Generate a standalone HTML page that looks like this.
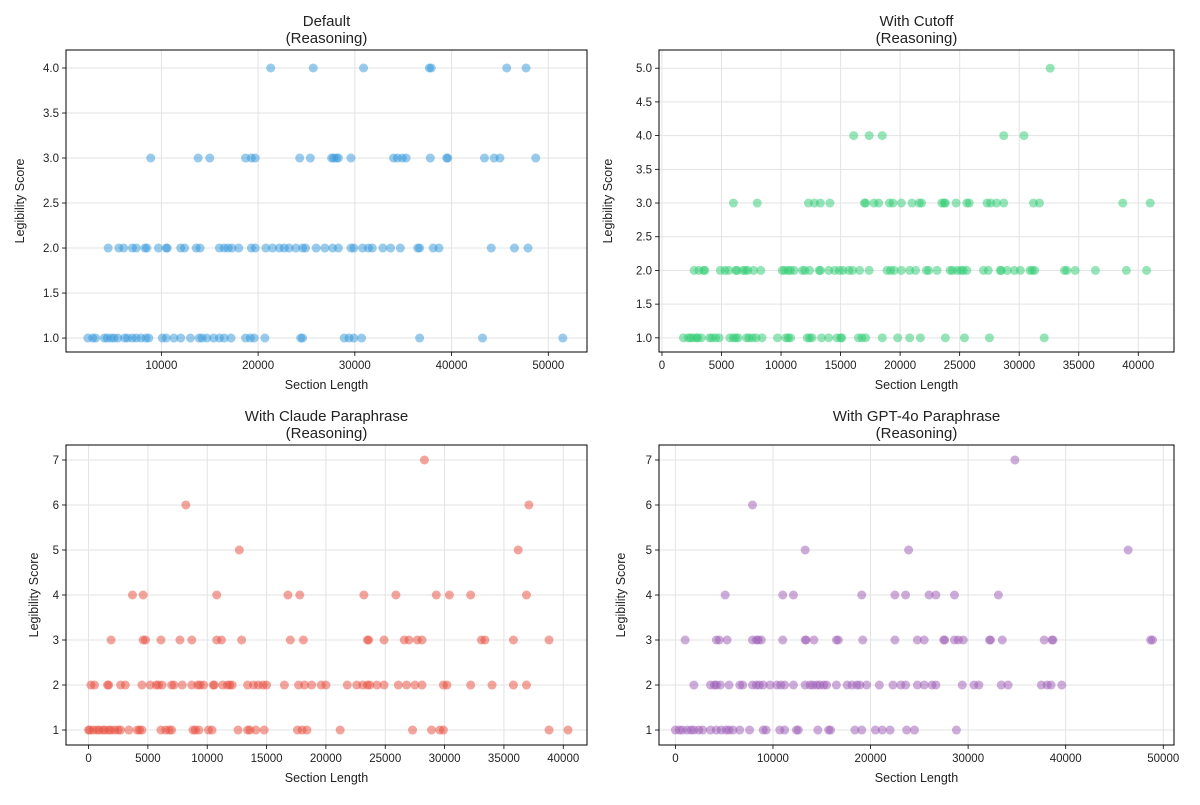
<!DOCTYPE html>
<html><head><meta charset="utf-8"><style>
body{margin:0;background:#fff;}
svg text{font-family:"Liberation Sans",sans-serif;fill:#222;}
</style></head><body>
<svg id="chart" width="1200" height="800" xmlns="http://www.w3.org/2000/svg"></svg>
<script>
// Panel 1: Default
const p1y1=[2.4,2.9,3.2,4.1,4.4,4.8,5.1,5.5,6.2,6.5,7.0,7.4,7.9,8.4,8.7,10.1,10.5,11.3,12.0,13.0,13.9,14.2,14.7,15.4,16.0,16.5,17.2,18.7,19.2,19.6,20.7,24.4,24.6,28.9,29.4,29.9,30.7,36.7,43.2,51.5];
const p1y2=[4.5,5.6,6.1,7.0,7.4,8.3,8.5,9.7,10.5,10.6,12.0,12.4,13.6,14.0,16.0,16.5,16.9,17.3,18.0,19.3,19.7,20.8,21.5,22.2,22.7,23.2,23.9,24.6,24.9,26.0,26.9,27.7,28.3,29.6,29.9,30.8,31.4,31.8,32.9,33.7,34.7,36.5,36.7,38.1,38.7,44.1,46.5,47.9];
const p1y3=[8.9,13.8,15.0,18.7,19.3,19.7,24.3,25.4,27.6,27.8,28.1,28.3,29.6,34.0,34.4,34.9,35.3,37.8,39.5,39.6,43.4,44.4,45.0,48.7];
const p1y4=[21.3,25.7,30.9,37.7,37.9,45.7,47.7];
// Panel 2: With Cutoff
const p2y1=[1.8,2.2,2.4,2.6,2.9,3.0,3.3,4.0,4.2,4.5,4.8,5.7,6.0,6.2,6.4,7.1,7.3,7.6,7.9,8.4,9.7,10.4,10.6,10.8,12.2,12.4,12.6,13.4,14.0,14.7,15.0,15.1,16.5,16.8,17.1,18.5,19.8,20.8,21.7,23.8,25.4,27.5,32.1];
const p2y2=[2.7,3.1,3.5,3.6,4.9,5.3,5.6,6.2,6.3,6.8,7.0,7.2,7.7,8.3,10.1,10.3,10.6,10.8,11.1,11.8,12.0,12.4,13.2,13.3,14.0,14.5,14.9,15.2,15.7,16.0,16.6,17.4,18.9,19.2,19.5,20.1,20.8,21.3,22.2,22.4,23.1,24.2,24.4,24.8,25.1,25.3,25.6,27.0,27.4,28.4,28.5,29.0,29.6,30.1,30.9,31.1,31.3,33.8,34.0,34.7,36.4,39.0,40.7];
const p2y3=[6.0,8.0,12.3,12.8,13.3,14.1,17.0,17.1,17.8,18.2,19.1,19.4,20.1,21.0,21.6,21.8,23.5,23.7,23.8,24.7,25.6,25.8,27.3,27.6,28.1,28.7,31.2,31.7,38.7,41.0];
const p2y4=[16.1,17.4,18.5,28.7,30.4];
const p2y5=[32.6];
// Panel 3: Claude paraphrase
const p3y1=[0.0,0.1,0.4,0.7,0.9,1.2,1.4,1.7,1.9,2.2,2.5,2.7,3.4,4.1,4.3,4.5,6.1,6.5,6.8,7.0,8.8,9.0,9.3,10.1,10.4,12.6,13.4,13.6,14.1,14.8,17.6,18.0,18.4,21.2,27.3,28.9,29.6,29.9,38.8,40.4];
const p3y2=[0.2,0.5,1.6,1.7,2.7,3.1,4.5,5.2,5.7,5.9,6.2,7.0,7.2,7.9,8.7,9.2,9.4,9.7,10.5,10.6,11.3,11.7,11.9,12.1,13.4,13.9,14.3,14.7,15.0,16.5,17.7,18.2,18.8,19.6,20.0,21.8,22.6,23.1,23.5,23.7,24.3,24.9,26.1,26.8,27.5,28.1,29.9,30.2,32.2,34.0,35.8,36.9];
const p3y3=[1.9,4.6,4.8,6.1,7.7,8.7,10.8,11.2,12.9,17.0,18.1,23.5,23.6,24.9,26.6,27.0,27.7,28.1,33.1,33.4,35.8,38.8];
const p3y4=[3.7,4.6,10.8,16.8,17.8,23.2,25.9,29.3,30.4,32.2,36.9];
const p3y5=[12.7,36.2];
const p3y6=[8.2,37.1];
const p3y7=[28.3];
// Panel 4: GPT-4o paraphrase
const p4y1=[0.0,0.4,0.7,1.2,1.6,1.9,2.4,2.8,3.6,4.2,4.7,5.2,5.5,5.9,6.6,7.6,9.0,9.3,10.7,11.2,12.4,12.6,14.6,15.7,15.9,18.4,19.1,20.5,21.2,22.0,23.7,24.5,28.8];
const p4y2=[1.9,3.6,4.0,4.2,4.6,5.5,6.6,6.9,7.9,8.3,8.6,9.0,9.7,10.4,10.8,11.2,12.1,13.3,13.8,14.1,14.5,14.8,15.2,15.5,16.5,17.6,18.1,18.6,18.9,19.6,20.9,22.3,23.1,23.6,24.8,25.5,26.3,26.7,29.4,30.6,31.1,33.4,34.1,37.5,38.1,38.5,39.6];
const p4y3=[1.0,4.2,4.5,5.3,7.9,8.3,8.5,8.8,11.0,13.3,13.4,14.2,16.5,16.7,19.2,22.5,24.8,25.5,27.5,27.6,28.6,29.0,29.5,32.2,32.3,33.5,37.8,38.6,38.7,48.7,48.9];
const p4y4=[5.1,11.0,12.1,19.1,22.5,23.6,26.0,26.7,28.6,33.1];
const p4y5=[13.3,23.9,46.4];
const p4y6=[7.9];
const p4y7=[34.8];

const xt1=[10000,20000,30000,40000,50000];
const xt2=[0,5000,10000,15000,20000,25000,30000,35000,40000];
const xt3=[0,5000,10000,15000,20000,25000,30000,35000,40000];
const xt4=[0,10000,20000,30000,40000,50000];
const yt1=[1.0,1.5,2.0,2.5,3.0,3.5,4.0];
const yt2=[1.0,1.5,2.0,2.5,3.0,3.5,4.0,4.5,5.0];
const yt34=[1,2,3,4,5,6,7];

const NS="http://www.w3.org/2000/svg";
const svg=document.getElementById('chart');
function mk(tag,attrs,parent){const e=document.createElementNS(NS,tag);for(const k in attrs)e.setAttribute(k,attrs[k]);(parent||svg).appendChild(e);return e;}

function panel(cfg){
  const g=mk('g',{});
  
  
  const {L,R,T,B,xmin,xmax,ymin,ymax}=cfg;
  const sx=v=>L+(v-xmin)/(xmax-xmin)*(R-L);
  const sy=v=>B-(v-ymin)/(ymax-ymin)*(B-T);
  cfg.xt.forEach(t=>{const x=sx(t);
    const gl=mk('line',{x1:x,x2:x,y1:T,y2:B,stroke:'#e3e3e3','stroke-width':1},g);
    
    mk('line',{x1:x,x2:x,y1:B,y2:B+4,stroke:'#000','stroke-width':0.8},g);
    const tx=mk('text',{x:x,y:B+17,'text-anchor':'middle','font-size':11.5},g);tx.textContent=String(t);
    
  });
  cfg.yt.forEach(t=>{const y=sy(t);
    const gl=mk('line',{x1:L,x2:R,y1:y,y2:y,stroke:'#e3e3e3','stroke-width':1},g);
    
    mk('line',{x1:L-4,x2:L,y1:y,y2:y,stroke:'#000','stroke-width':0.8},g);
    const tx=mk('text',{x:L-7,y:y+4,'text-anchor':'end','font-size':11.5},g);tx.textContent=cfg.yfmt(t);
    
  });
  cfg.series.forEach(([score,arr])=>{arr.forEach(v=>{
    const c=mk('circle',{cx:sx(v*1000),cy:sy(score),r:4.5,fill:cfg.color,'fill-opacity':0.5},g);
    
  });});
  const fr=mk('rect',{x:L,y:T,width:R-L,height:B-T,fill:'none',stroke:'#000','stroke-width':1},g);
  
  const cx=(L+R)/2;
  const t1=mk('text',{x:cx,y:T-24,'text-anchor':'middle','font-size':15},g);t1.textContent=cfg.title;
  
  const t2=mk('text',{x:cx,y:T-7,'text-anchor':'middle','font-size':15},g);t2.textContent='(Reasoning)';
  
  const xl=mk('text',{x:cx,y:B+37,'text-anchor':'middle','font-size':12.5},g);xl.textContent='Section Length';
  
  const yx=L-cfg.ylabOff, yy=(T+B)/2;
  const yl=mk('text',{x:yx,y:yy,'text-anchor':'middle','font-size':12.5,transform:`rotate(-90 ${yx} ${yy})`},g);yl.textContent='Legibility Score';
  
}
const f1=v=>v.toFixed(1), f0=v=>String(v);
panel({name:'panel-default',L:66,R:587,T:50,B:352,xmin:140,xmax:54000,ymin:0.845,ymax:4.2,xt:xt1,yt:yt1,yfmt:f1,color:'#3498db',ylabOff:42,title:'Default',
  series:[[1,p1y1],[2,p1y2],[3,p1y3],[4,p1y4]]});
panel({name:'panel-cutoff',L:659,R:1174,T:50,B:352,xmin:-250,xmax:43000,ymin:0.79,ymax:5.27,xt:xt2,yt:yt2,yfmt:f1,color:'#2ecc71',ylabOff:47,title:'With Cutoff',
  series:[[1,p2y1],[2,p2y2],[3,p2y3],[4,p2y4],[5,p2y5]]});
panel({name:'panel-claude-paraphrase',L:66,R:587,T:445,B:745,xmin:-1900,xmax:42000,ymin:0.667,ymax:7.333,xt:xt3,yt:yt34,yfmt:f0,color:'#e74c3c',ylabOff:28,title:'With Claude Paraphrase',
  series:[[1,p3y1],[2,p3y2],[3,p3y3],[4,p3y4],[5,p3y5],[6,p3y6],[7,p3y7]]});
panel({name:'panel-gpt4o-paraphrase',L:659,R:1174,T:445,B:745,xmin:-1680,xmax:51100,ymin:0.667,ymax:7.333,xt:xt4,yt:yt34,yfmt:f0,color:'#9b59b6',ylabOff:34,title:'With GPT-4o Paraphrase',
  series:[[1,p4y1],[2,p4y2],[3,p4y3],[4,p4y4],[5,p4y5],[6,p4y6],[7,p4y7]]});
</script>
</body></html>
